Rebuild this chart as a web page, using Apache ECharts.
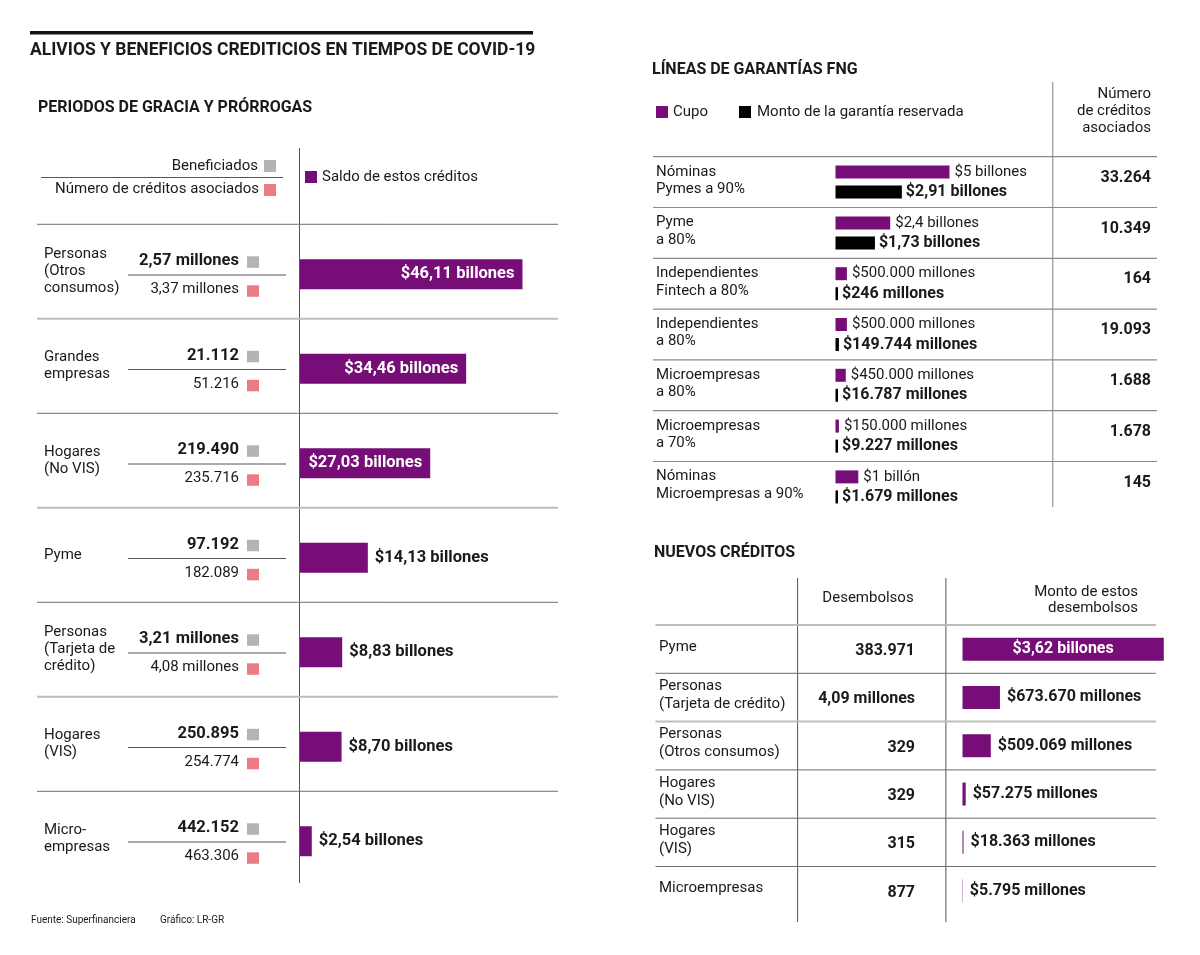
<!DOCTYPE html>
<html><head><meta charset="utf-8">
<script src="https://cdn.jsdelivr.net/npm/echarts@6/dist/echarts.min.js"></script>
<style>html,body{margin:0;padding:0;background:#fff}#c{width:1200px;height:955px}</style>
</head><body><div id="c"></div>
<script>
// ---------- DATA ----------
const periodCats = ['Personas\n(Otros\nconsumos)', 'Grandes\nempresas', 'Hogares\n(No VIS)', 'Pyme', 'Personas\n(Tarjeta de\ncrédito)', 'Hogares\n(VIS)', 'Micro-\nempresas'];
const beneficiados = ['2,57 millones', '21.112', '219.490', '97.192', '3,21 millones', '250.895', '442.152'];
const creditosAsociados = ['3,37 millones', '51.216', '235.716', '182.089', '4,08 millones', '254.774', '463.306'];
const saldoBillones = [46.11, 34.46, 27.03, 14.13, 8.83, 8.70, 2.54];

const fngCats = ['Nóminas\nPymes a 90%', 'Pyme\na 80%', 'Independientes\nFintech a 80%', 'Independientes\na 80%', 'Microempresas\na 80%', 'Microempresas\na 70%', 'Nóminas\nMicroempresas a 90%'];
const fngCupoMillones = [5000000, 2400000, 500000, 500000, 450000, 150000, 1000000];
const fngMontoMillones = [2910000, 1730000, 246, 149744, 16787, 9227, 1679];
const fngCreditos = ['33.264', '10.349', '164', '19.093', '1.688', '1.678', '145'];

const nuevosCats = ['Pyme', 'Personas\n(Tarjeta de crédito)', 'Personas\n(Otros consumos)', 'Hogares\n(No VIS)', 'Hogares\n(VIS)', 'Microempresas'];
const desembolsos = ['383.971', '4,09 millones', '329', '329', '315', '877'];
const montoDesembolsosMillones = [3620000, 673670, 509069, 57275, 18363, 5795];

// ---------- STYLE ----------
const FONT = 'Roboto, "Noto Sans", sans-serif';
const PURPLE = '#770d77';
const INK = '#1a1a1a';
const GREY_SQ = '#b3b3b8';
const PINK_SQ = '#ec7c84';

function thousands(n) {
  return String(n).replace(/\B(?=(\d{3})+(?!\d))/g, '.');
}
function fmtBillones(v) { return '$' + v.toFixed(2).replace('.', ',') + ' billones'; }
function fmtMillones(v) {
  if (v >= 1000000) {
    const b = v / 1000000;
    return '$' + String(b).replace('.', ',') + (b === 1 ? ' billón' : ' billones');
  }
  return '$' + thousands(v) + ' millones';
}

const G = [];
function txt(x, y, s, o) {
  o = o || {};
  G.push({type: 'text', silent: true, z: 10, style: {
    x: x, y: y, text: s, fill: o.color || INK,
    fontFamily: FONT, fontSize: o.size || 15, fontWeight: o.bold ? 'bold' : 'normal',
    align: o.align || 'left', verticalAlign: 'middle',
    textAlign: o.align || 'left', textVerticalAlign: 'middle'
  }});
}
function multi(x, yc, s, lh, o) {
  const lines = s.split('\n');
  lines.forEach((l, k) => txt(x, yc - (lines.length - 1) * lh / 2 + k * lh, l, o));
}
function line(x1, y1, x2, y2, color, w) {
  G.push({type: 'line', silent: true, z: 5, shape: {x1, y1, x2, y2}, style: {stroke: color, lineWidth: w}});
}
function rect(x, y, w, h, color) {
  G.push({type: 'rect', silent: true, z: 5, shape: {x, y, width: w, height: h}, style: {fill: color}});
}

// ---------- LEFT PANEL ----------
rect(30, 31, 503, 3.5, '#111');
txt(30, 51, 'ALIVIOS Y BENEFICIOS CREDITICIOS EN TIEMPOS DE COVID-19', {bold: true, size: 17.5});
txt(38, 108, 'PERIODOS DE GRACIA Y PRÓRROGAS', {bold: true, size: 16});
line(299.5, 148, 299.5, 883, '#555', 1);
txt(258, 166, 'Beneficiados', {align: 'right'});
rect(264, 160, 12, 12, GREY_SQ);
line(41, 177.5, 283, 177.5, '#555', 1);
txt(259, 189, 'Número de créditos asociados', {align: 'right'});
rect(264, 184, 12, 12, PINK_SQ);
rect(305, 171, 12, 12, PURPLE);
txt(322, 177, 'Saldo de estos créditos');

const LT = 224.3, LH = 94.5;
for (let i = 0; i < periodCats.length; i++) {
  const top = LT + LH * i;
  const light = i % 2 === 1;
  line(37, top, 558, top, light ? '#bdbdbd' : '#6e6e6e', light ? 2 : 1);
  multi(44, top + 47, periodCats[i], 17, {});
  txt(239, top + 37, beneficiados[i], {align: 'right', bold: true, size: 16.5});
  rect(247, top + 32, 12, 11.5, GREY_SQ);
  line(128, top + 50.7, 286, top + 50.7, '#555', 1);
  txt(239, top + 65, creditosAsociados[i], {align: 'right'});
  rect(247, top + 61, 12, 11.5, PINK_SQ);
}
txt(31, 920, 'Fuente: Superfinanciera', {size: 10});
txt(160, 920, 'Gráfico: LR-GR', {size: 10});

// ---------- FNG PANEL ----------
txt(652, 70, 'LÍNEAS DE GARANTÍAS FNG', {bold: true, size: 16});
rect(656, 106, 12, 12, PURPLE);
txt(673, 112, 'Cupo');
rect(739, 106, 12, 12, '#000');
txt(757, 112, 'Monto de la garantía reservada');
line(1052.7, 82, 1052.7, 507, '#a8a8a8', 1.5);
txt(1151, 94, 'Número', {align: 'right'});
txt(1151, 111.5, 'de créditos', {align: 'right'});
txt(1151, 128.5, 'asociados', {align: 'right'});
const FT = 156.7, FH = 50.8;
for (let i = 0; i < fngCats.length; i++) {
  const top = FT + FH * i;
  line(653, top, 1157, top, '#8a8a8a', 1.2);
  multi(656, top + 23.8, fngCats[i], 17.5, {});
  txt(1151, top + 21, fngCreditos[i], {align: 'right', bold: true, size: 16});
}

// ---------- NUEVOS CRÉDITOS ----------
txt(654, 553, 'NUEVOS CRÉDITOS', {bold: true, size: 16});
line(797.6, 578, 797.6, 922, '#555', 1);
line(945.9, 578, 945.9, 922, '#555', 1);
txt(868, 598, 'Desembolsos', {align: 'center'});
txt(1138, 592, 'Monto de estos', {align: 'right'});
txt(1138, 608, 'desembolsos', {align: 'right'});
const NT = 625, NH = 48.3;
const nLight = [true, false, true, false, false, false];
for (let i = 0; i < nuevosCats.length; i++) {
  const top = NT + NH * i;
  line(655.5, top, 1156, top, nLight[i] ? '#bdbdbd' : '#6e6e6e', nLight[i] ? 2 : 1);
  multi(659, top + 22, nuevosCats[i], 18, {});
  txt(915, top + 26, desembolsos[i], {align: 'right', bold: true, size: 16});
}

// ---------- CHART ----------
const chart = echarts.init(document.getElementById('c'), null, {renderer: 'canvas'});
const hiddenX = (idx, max) => ({type: 'value', gridIndex: idx, min: 0, max: max, show: false});
const hiddenY = (idx, data) => ({type: 'category', gridIndex: idx, data: data, inverse: true, show: false});

chart.setOption({
  animation: false,
  backgroundColor: '#fff',
  textStyle: {fontFamily: FONT},
  grid: [
    {left: 299.5, top: 227, width: 241.8, height: 661.5},
    {left: 835.5, top: 156.7, width: 136.8, height: 355.6},
    {left: 962.5, top: 625, width: 222.4, height: 289.8}
  ],
  xAxis: [hiddenX(0, 50), hiddenX(1, 6000000), hiddenX(2, 4000000)],
  yAxis: [hiddenY(0, periodCats), hiddenY(1, fngCats), hiddenY(2, nuevosCats)],
  series: [
    {
      type: 'bar', xAxisIndex: 0, yAxisIndex: 0, barWidth: 30,
      itemStyle: {color: PURPLE},
      data: saldoBillones.map((v, i) => i < 3 ? {value: v, label: {position: 'insideRight', color: '#fff', distance: 8}} : v),
      label: {show: true, position: 'right', distance: 7, formatter: p => fmtBillones(p.value),
        fontFamily: FONT, fontWeight: 'bold', fontSize: 16.5, color: INK}
    },
    {
      type: 'bar', xAxisIndex: 1, yAxisIndex: 1, barWidth: 13, barGap: '54%',
      itemStyle: {color: PURPLE},
      data: fngCupoMillones,
      label: {show: true, position: 'right', distance: 5, formatter: p => fmtMillones(p.value),
        fontFamily: FONT, fontSize: 15, color: INK}
    },
    {
      type: 'bar', xAxisIndex: 1, yAxisIndex: 1, barWidth: 13, barGap: '54%', barMinHeight: 2.5,
      itemStyle: {color: '#000'},
      data: fngMontoMillones,
      label: {show: true, position: 'right', distance: 4, formatter: p => fmtMillones(p.value),
        fontFamily: FONT, fontWeight: 'bold', fontSize: 16, color: INK}
    },
    {
      type: 'bar', xAxisIndex: 2, yAxisIndex: 2, barWidth: 23,
      itemStyle: {color: PURPLE},
      data: montoDesembolsosMillones.map((v, i) => i === 0 ? {value: v, label: {position: 'inside', color: '#fff'}} : v),
      label: {show: true, position: 'right', distance: 7, formatter: p => fmtMillones(p.value),
        fontFamily: FONT, fontWeight: 'bold', fontSize: 16, color: INK}
    }
  ],
  graphic: G
});
</script>
</body></html>
